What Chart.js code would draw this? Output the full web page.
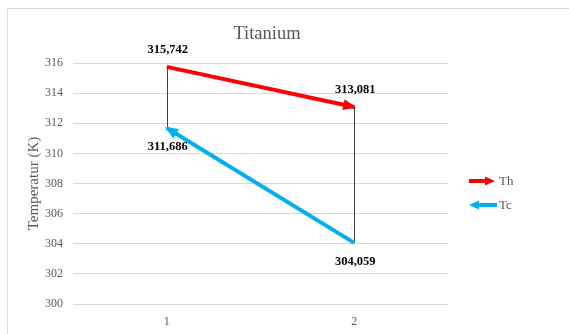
<!DOCTYPE html>
<html>
<head>
<meta charset="utf-8">
<script src="https://cdn.jsdelivr.net/npm/chart.js@4/dist/chart.umd.min.js"></script>
<style>
  html, body { margin: 0; padding: 0; background: #fff; overflow: hidden; }
  #frame { position: absolute; left: 7px; top: 8px; width: 620px; height: 400px; border: 1px solid #d9d9d9; box-sizing: border-box; }
  #wrap { position: absolute; left: 0; top: 0; width: 569px; height: 334px; }
</style>
</head>
<body>
<div id="frame"></div>
<div id="wrap"><canvas id="c" width="569" height="334"></canvas></div>
<script>
// Temperatures (K) at the two measuring points
const categories = ['1', '2'];
const thValues = [315.742, 313.081];   // hot side
const tcValues = [311.686, 304.059];   // cold side
const seriesNames = ['Th', 'Tc'];
const yTickValues = [300, 302, 304, 306, 308, 310, 312, 314, 316];

const SERIF = '"Liberation Serif", "Times New Roman", serif';
const GREY = '#595959';
const RED = '#ff0000';
const BLUE = '#00b0f0';

function fmt(v) { return v.toFixed(3).replace('.', ','); }

function arrowHead(ctx, tipX, tipY, fromX, fromY, color, len, half) {
  const a = Math.atan2(tipY - fromY, tipX - fromX);
  ctx.save();
  ctx.translate(tipX, tipY);
  ctx.rotate(a);
  ctx.fillStyle = color;
  ctx.beginPath();
  ctx.moveTo(2, 0);
  ctx.lineTo(-len, -half);
  ctx.lineTo(-len, half);
  ctx.closePath();
  ctx.fill();
  ctx.restore();
}

// thin vertical connectors between the two series at each category
const hiLowLines = {
  id: 'hiLowLines',
  beforeDatasetsDraw(chart) {
    const { ctx, scales: { x, y } } = chart;
    ctx.save();
    ctx.strokeStyle = '#404040';
    ctx.lineWidth = 1;
    categories.forEach((c, i) => {
      const px = Math.round(x.getPixelForValue(i)) + 0.5;
      ctx.beginPath();
      ctx.moveTo(px, y.getPixelForValue(thValues[i]));
      ctx.lineTo(px, y.getPixelForValue(tcValues[i]));
      ctx.stroke();
    });
    ctx.restore();
  }
};

// arrowheads, value labels, title and legend
const decorations = {
  id: 'decorations',
  afterDatasetsDraw(chart) {
    const { ctx } = chart;
    // Th runs 1 -> 2, Tc runs 2 -> 1
    const th = chart.getDatasetMeta(0).data;
    const tc = chart.getDatasetMeta(1).data;
    arrowHead(ctx, th[1].x, th[1].y, th[0].x, th[0].y, RED, 11, 5.5);
    arrowHead(ctx, tc[0].x, tc[0].y, tc[1].x, tc[1].y, BLUE, 11, 5.5);

    ctx.save();
    ctx.font = 'bold 12.5px ' + SERIF;
    ctx.fillStyle = '#000';
    ctx.textAlign = 'center';
    ctx.textBaseline = 'middle';
    th.forEach((p, i) => ctx.fillText(fmt(thValues[i]), p.x + 1, p.y - 17));
    tc.forEach((p, i) => ctx.fillText(fmt(tcValues[i]), p.x + 1, p.y + 19));
    ctx.restore();
  },
  afterDraw(chart) {
    const { ctx } = chart;
    ctx.save();
    ctx.font = '18.5px ' + SERIF;
    ctx.fillStyle = GREY;
    ctx.textAlign = 'center';
    ctx.textBaseline = 'middle';
    ctx.fillText('Titanium', 267, 34);

    // legend
    ctx.font = '13px ' + SERIF;
    ctx.textAlign = 'left';
    ctx.lineWidth = 4;
    const items = [
      { y: 181, color: RED, dir: 1 },
      { y: 205, color: BLUE, dir: -1 }
    ];
    items.forEach((it, i) => {
      ctx.strokeStyle = it.color;
      ctx.beginPath();
      if (it.dir > 0) {
        ctx.moveTo(469, it.y); ctx.lineTo(487, it.y);
        ctx.stroke();
        arrowHead(ctx, 493, it.y, 469, it.y, it.color, 8, 4.5);
      } else {
        ctx.moveTo(477, it.y); ctx.lineTo(497, it.y);
        ctx.stroke();
        arrowHead(ctx, 471, it.y, 497, it.y, it.color, 8, 4.5);
      }
      ctx.fillStyle = GREY;
      ctx.fillText(seriesNames[i], 499, it.y + 1);
    });
    ctx.restore();
  }
};

new Chart(document.getElementById('c'), {
  type: 'line',
  data: {
    labels: categories,
    datasets: [
      { label: seriesNames[0], data: thValues, borderColor: RED, borderWidth: 4, pointRadius: 0, borderCapStyle: 'butt', clip: false },
      { label: seriesNames[1], data: tcValues, borderColor: BLUE, borderWidth: 4, pointRadius: 0, borderCapStyle: 'butt', clip: false }
    ]
  },
  options: {
    responsive: false,
    animation: false,
    devicePixelRatio: 1,
    layout: { padding: { left: 0, right: 121, top: 63, bottom: 0 } },
    plugins: {
      legend: { display: false },
      title: { display: false },
      tooltip: { enabled: false }
    },
    scales: {
      x: {
        offset: true,
        grid: { display: false, drawTicks: false },
        border: { display: false },
        ticks: { color: GREY, font: { family: SERIF, size: 12 }, padding: 11 },
        afterFit(s) { s.height = 30; }
      },
      y: {
        min: 300,
        max: 316,
        afterBuildTicks(s) { s.ticks = yTickValues.map(v => ({ value: v })); },
        grid: { color: '#d9d9d9', lineWidth: 1, drawTicks: false },
        border: { display: false },
        ticks: { color: GREY, font: { family: SERIF, size: 12 }, padding: 10 },
        title: {
          display: true,
          text: 'Temperatur (K)',
          color: GREY,
          font: { family: SERIF, size: 15 },
          padding: { top: 25, bottom: 0 }
        },
        afterFit(s) { s.width = 73; }
      }
    }
  },
  plugins: [hiLowLines, decorations]
});
</script>
</body>
</html>
